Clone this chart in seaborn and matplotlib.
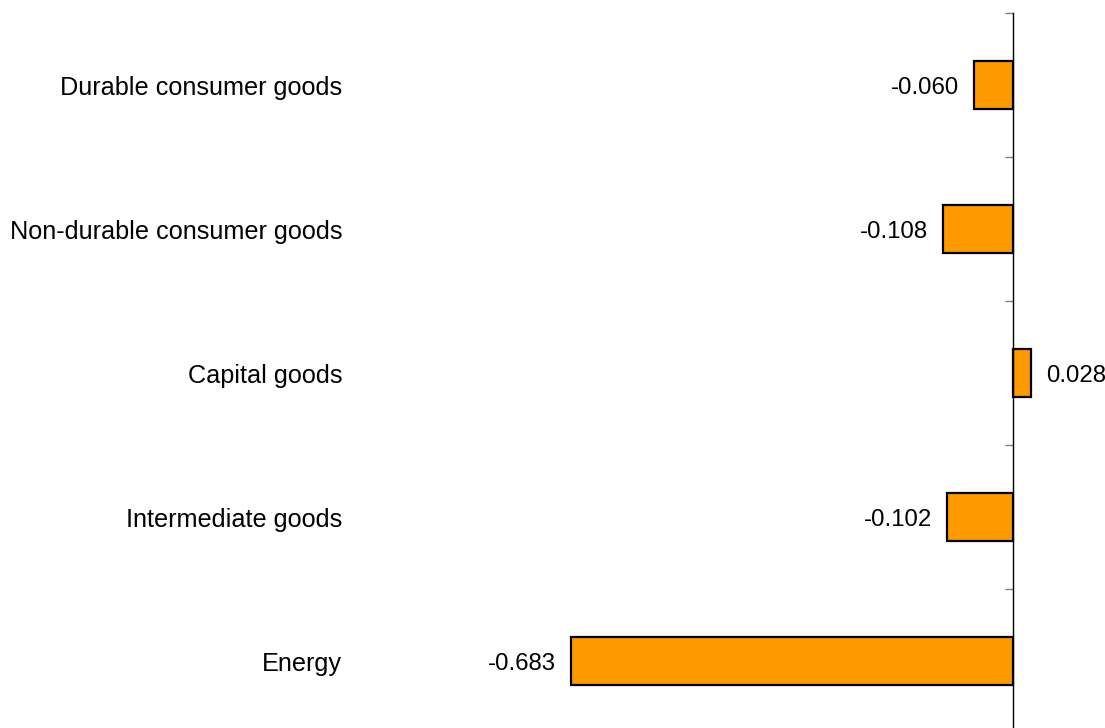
import matplotlib
matplotlib.use('Agg')
import matplotlib.pyplot as plt
import matplotlib.transforms as mtransforms
import seaborn as sns
import pandas as pd

categories = ['Durable consumer goods', 'Non-durable consumer goods', 'Capital goods',
              'Intermediate goods', 'Energy']
values = [-0.060, -0.108, 0.028, -0.102, -0.683]

sns.set_style('white')
plt.rcParams['font.family'] = ['Liberation Sans', 'DejaVu Sans']
plt.rcParams['text.color'] = 'black'

df = pd.DataFrame({'category': categories, 'value': values})

fig = plt.figure(figsize=(11.05, 7.28), dpi=100)
# axes spans the whole width; the zero line sits near the right edge
ax = fig.add_axes([0, -5 / 728, 1, 720 / 728])

sns.barplot(data=df, y='category', x='value', orient='h', order=categories,
            color='#FF9900', saturation=1, width=1 / 3,
            edgecolor='black', linewidth=1.6, ax=ax)

ax.set_xlim(-1013 / 647, 92 / 647)
ax.set_ylim(len(categories) - 0.5, -0.5)

for s in ['top', 'right', 'bottom']:
    ax.spines[s].set_visible(False)
ax.spines['left'].set_position(('data', 0))
ax.spines['left'].set_color('black')
ax.spines['left'].set_linewidth(1.0)

ax.set_xticks([])
ax.set_yticks([i - 0.5 for i in range(len(categories) + 1)])
ax.set_yticklabels([])
ax.tick_params(axis='y', left=True, length=6, width=1.0, color='#808080')
ax.set_xlabel('')
ax.set_ylabel('')

# category names in a column at the left
trans = mtransforms.blended_transform_factory(fig.transFigure, ax.transData)
for i, c in enumerate(categories):
    ax.text(342 / 1105, i, c, transform=trans, ha='right', va='center_baseline',
            fontsize=18.2, color='black')

for cont in ax.containers:
    labels = ax.bar_label(cont, fmt='%.3f', padding=11, fontsize=17.3, color='black')
    for t in labels:
        t.set_va('center_baseline')

fig.savefig('out.png', dpi=100)
